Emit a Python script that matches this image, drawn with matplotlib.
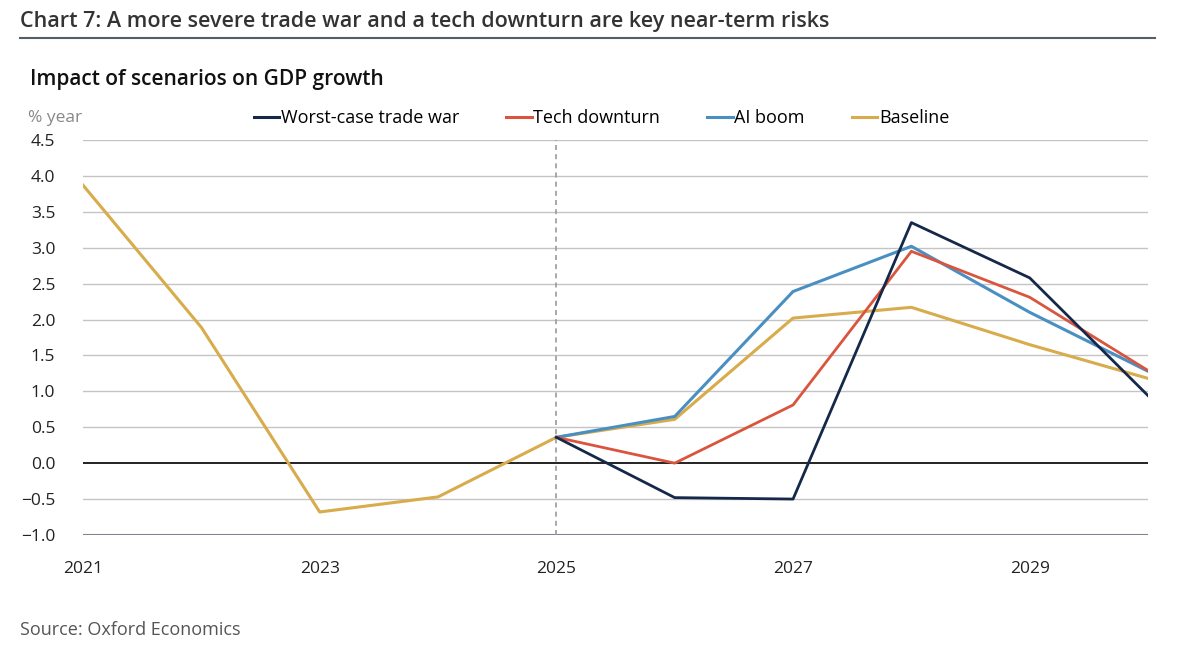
import matplotlib.pyplot as plt
from matplotlib.lines import Line2D

years = [2021, 2022, 2023, 2024, 2025, 2026, 2027, 2028, 2029, 2030]
baseline = [3.87, 1.89, -0.68, -0.47, 0.36, 0.61, 2.02, 2.17, 1.65, 1.18]

scen_years = [2025, 2026, 2027, 2028, 2029, 2030]
worst_case = [0.36, -0.48, -0.50, 3.35, 2.58, 0.94]
tech_down = [0.36, 0.0, 0.81, 2.95, 2.31, 1.29]
ai_boom = [0.36, 0.65, 2.39, 3.02, 2.10, 1.28]

yticks = [-1.0, -0.5, 0.0, 0.5, 1.0, 1.5, 2.0, 2.5, 3.0, 3.5, 4.0, 4.5]
xticks = [2021, 2023, 2025, 2027, 2029]

NAVY = '#16284a'
RED = '#d9553d'
BLUE = '#4a8fc2'
GOLD = '#d8ab4c'
TXT = '#222222'

plt.rcParams['font.family'] = ['Open Sans', 'DejaVu Sans']

fig = plt.figure(figsize=(12, 6.56), dpi=100)
ax = fig.add_axes([0.0692, 0.1845, 0.8875, 0.6021])

for y in yticks:
    if y == 0.0:
        ax.axhline(y, color='#111111', lw=1.3, zorder=1)
    elif y == -1.0:
        ax.axhline(y, color='#7d8590', lw=1.5, zorder=1)
    else:
        ax.axhline(y, color='#c4c4c4', lw=1.0, zorder=1)

ax.axvline(2025, color='#9a9a9a', lw=1.2, ls=(0, (3, 2.5)), zorder=1)

ax.plot(years, baseline, color=GOLD, lw=2.2, zorder=3)
ax.plot(scen_years, ai_boom, color=BLUE, lw=2.2, zorder=4)
ax.plot(scen_years, tech_down, color=RED, lw=2.0, zorder=5)
ax.plot(scen_years, worst_case, color=NAVY, lw=2.0, zorder=6)

ax.set_xlim(2021, 2030)
ax.set_ylim(-1.0, 4.5)
ax.set_yticks(yticks)
ax.set_yticklabels([f'{v:.1f}'.replace('-', '\u2212') for v in yticks], fontsize=12.5, color=TXT)
ax.set_xticks(xticks)
ax.set_xticklabels([str(x) for x in xticks], fontsize=12.5, color=TXT)
ax.tick_params(axis='both', length=0)
ax.tick_params(axis='y', pad=20)
ax.tick_params(axis='x', pad=19)
for s in ax.spines.values():
    s.set_visible(False)

fig.text(20 / 1200, 1 - 22 / 656, 'Chart 7: A more severe trade war and a tech downturn are key near-term risks',
         fontsize=15.5, color='#333333', va='center', ha='left', fontweight='semibold')
fig.add_artist(Line2D([20 / 1200, 1155 / 1200], [1 - 38 / 656, 1 - 38 / 656], color='#555d66', lw=1.5))
fig.text(30 / 1200, 1 - 80 / 656, 'Impact of scenarios on GDP growth', fontsize=15, color='#111111',
         va='center', ha='left', fontweight='semibold')
fig.text(28 / 1200, 1 - 118 / 656, '% year', fontsize=12.5, color='#888888', va='center', ha='left')
fig.text(20 / 1200, 1 - 630 / 656, 'Source: Oxford Economics', fontsize=13, color='#555555',
         va='center', ha='left')

handles = [Line2D([], [], color=c, lw=2.2) for c in (NAVY, RED, BLUE, GOLD)]
labels = ['Worst-case trade war', 'Tech downturn', 'AI boom', 'Baseline']
fig.legend(handles, labels, loc='center left', bbox_to_anchor=(254 / 1200, 1 - 118 / 656), ncol=4,
           frameon=False, fontsize=13, handlelength=1.4, handletextpad=0.1, columnspacing=2.6,
           borderpad=0, borderaxespad=0)

fig.savefig('out.png', dpi=100, facecolor='white')
